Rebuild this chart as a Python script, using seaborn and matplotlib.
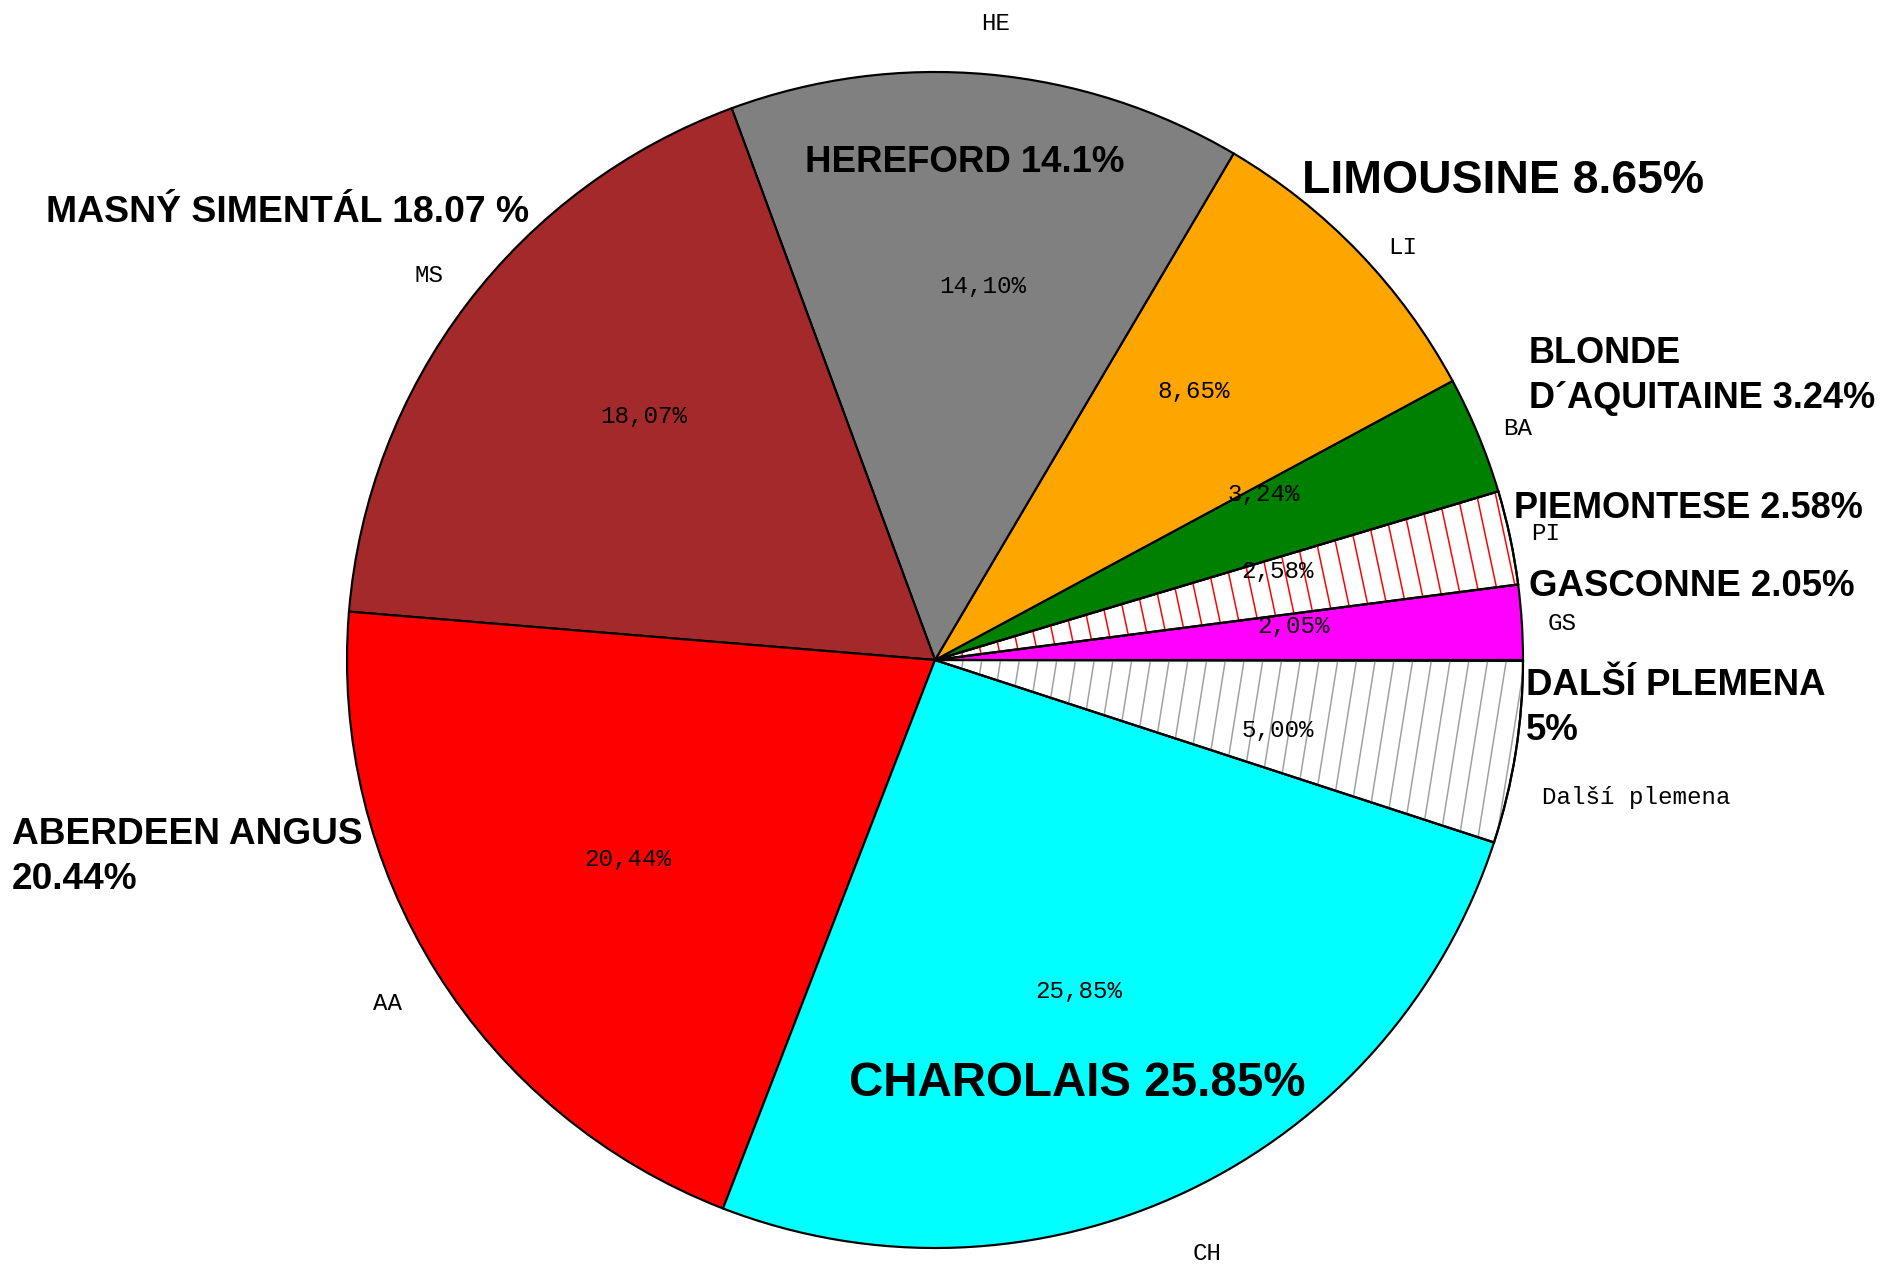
import matplotlib
matplotlib.use("Agg")
import numpy as np
import matplotlib.pyplot as plt
import matplotlib.patches as mpatches
from matplotlib.collections import LineCollection
import seaborn as sns

# ---- data ----
codes = ["GS", "PI", "BA", "LI", "HE", "MS", "AA", "CH", "Další plemena"]
shares = [2.05, 2.58, 3.24, 8.65, 14.10, 18.07, 20.44, 25.85, 5.00]
pct_labels = ["2,05%", "2,58%", "3,24%", "8,65%", "14,10%", "18,07%", "20,44%", "25,85%", "5,00%"]
face_colors = ["#FF00FF", "white", "#008000", "#FFA500", "#808080", "#A3292A", "#FF0000", "#00FFFF", "white"]
hatch_colors = [None, "#FF0000", None, None, None, None, None, None, "#A0A0A0"]

big_labels = ["MASNÝ SIMENTÁL 18.07 %", "HEREFORD 14.1%", "LIMOUSINE 8.65%",
              "BLONDE\nD´AQUITAINE 3.24%", "PIEMONTESE 2.58%", "GASCONNE 2.05%",
              "DALŠÍ PLEMENA\n5%", "ABERDEEN ANGUS\n20.44%", "CHAROLAIS 25.85%"]

# ---- label placement styling (radius in pie radii, angle shift in degrees) ----
code_r = [1.068, 1.061, 1.066, 1.061, 1.087, 1.080, 1.099, 1.111, 1.216]
code_dang = [-0.4, -0.35, -0.8, -2.5, -0.3, 0.0, 0.0, -0.8, -2.0]
pct_r = [0.612, 0.602, 0.626, 0.634, 0.641, 0.646, 0.623, 0.614, 0.595]
pct_dang = [1.7, 2.4, 4.3, 2.1, -2.2, -2.6, 1.0, -1.9, -2.5]

sns.set_theme(style="white")
plt.rcParams["font.family"] = ["Liberation Sans", "DejaVu Sans"]

W, H, DPI = 1891, 1266, 120
fig = plt.figure(figsize=(W / DPI, H / DPI), dpi=DPI)
fig.patch.set_facecolor("white")
ax = fig.add_axes([0, 0, 1, 1])

cx, cy, R = 935, 660, 588  # pixel centre & radius

fracs = [s / 100 for s in shares]
it = iter(pct_labels)
wedges, texts, autotexts = ax.pie(
    fracs, labels=codes, colors=face_colors, startangle=0, counterclock=True,
    normalize=False, autopct=lambda p: next(it), pctdistance=0.62, labeldistance=1.08,
    wedgeprops=dict(edgecolor="black", linewidth=1.3),
    textprops=dict(family="Liberation Mono", fontsize=14.5, color="black"),
)

ax.set_xlim(-cx / R, (W - cx) / R)
ax.set_ylim(-(H - cy) / R, cy / R)
ax.axis("off")

# hatch lines perpendicular to wedge bisector
step = 18.5 / R
for w, hc in zip(wedges, hatch_colors):
    if hc is None:
        continue
    m = np.deg2rad((w.theta1 + w.theta2) / 2)
    u = np.array([np.cos(m), np.sin(m)])
    p = np.array([-np.sin(m), np.cos(m)])
    segs = []
    for d in np.arange(step / 2, w.r + step, step):
        c = d * u
        segs.append([c - 1.2 * p, c + 1.2 * p])
    lc = LineCollection(segs, colors=hc, linewidths=0.9, zorder=1.5)
    ax.add_collection(lc)
    lc.set_clip_path(w)
    border = mpatches.Wedge(w.center, w.r, w.theta1, w.theta2, facecolor="none",
                            edgecolor="black", linewidth=1.3, zorder=1.6)
    ax.add_patch(border)

# fine placement of code and percentage labels
for w, t, at, r1, a1, r2, a2 in zip(wedges, texts, autotexts, code_r, code_dang, pct_r, pct_dang):
    mid = (w.theta1 + w.theta2) / 2
    m1 = np.deg2rad(mid + a1)
    t.set_ha("center")
    t.set_va("center")
    t.set_position((r1 * np.cos(m1), r1 * np.sin(m1)))
    m2 = np.deg2rad(mid + a2)
    at.set_position((r2 * np.cos(m2), r2 * np.sin(m2)))

# big annotation labels (pixel positions -> figure fraction)
big_pos = [(46, 212, "left", 22.4), (965, 163, "center", 22), (1302, 181, "left", 27.8),
           (1529, 376, "left", 21.7), (1514, 508, "left", 21.7), (1529, 587, "left", 22),
           (1526, 708, "left", 22), (12, 857, "left", 22.2), (1077, 1083, "center", 28.5)]
for txt, (px, py, ha, fs) in zip(big_labels, big_pos):
    fig.text(px / W, 1 - py / H, txt, ha=ha, va="center", fontsize=fs,
             fontweight="bold", color="black", linespacing=1.4)

fig.savefig("out.png", dpi=DPI, facecolor="white")
